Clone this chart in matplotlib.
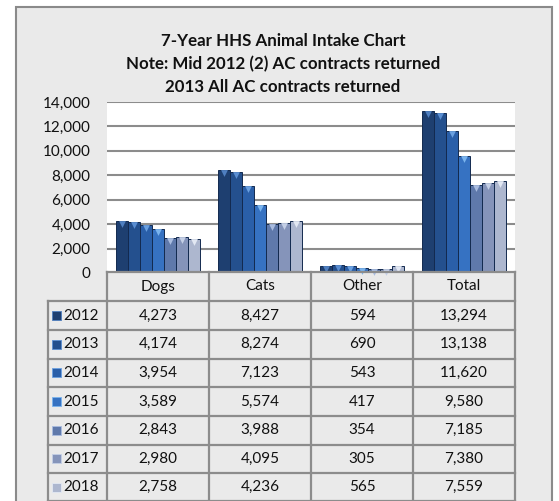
import matplotlib
matplotlib.use('Agg')
import matplotlib.pyplot as plt
import matplotlib.patches as patches
import matplotlib.transforms as mtransforms
from matplotlib.lines import Line2D
import numpy as np

plt.rcParams['font.family'] = ['Lato', 'DejaVu Sans']

categories = ['Dogs', 'Cats', 'Other', 'Total']
years = ['2012', '2013', '2014', '2015', '2016', '2017', '2018']
intake = {
    '2012': [4273, 8427, 594, 13294],
    '2013': [4174, 8274, 690, 13138],
    '2014': [3954, 7123, 543, 11620],
    '2015': [3589, 5574, 417, 9580],
    '2016': [2843, 3988, 354, 7185],
    '2017': [2980, 4095, 305, 7380],
    '2018': [2758, 4236, 565, 7559],
}
colors = ['#1e3f70', '#24508e', '#2a5fa9', '#3672c2', '#5f79ab', '#8594ba', '#adb7cf']
tops = ['#4f7fc0', '#5a8ed2', '#6aa0e0', '#7ab4ee', '#a9bce0', '#c4cfe6', '#e2e8f3']
title = ('7-Year HHS Animal Intake Chart\n'
         'Note: Mid 2012 (2) AC contracts returned\n'
         '2013 All AC contracts returned')

W, H = 559, 501
fig = plt.figure(figsize=(W / 100, H / 100), dpi=100)
fig.patch.set_facecolor('white')


def fx(px):
    return px / W


def fy(py):
    return 1 - py / H


# outer frame
fig.patches.append(patches.Rectangle((fx(16), fy(520)), fx(552) - fx(16), fy(7) - fy(520),
                                     transform=fig.transFigure, facecolor='#eaeaea',
                                     edgecolor='#8a8a8a', lw=1.5, zorder=-5))

fig.text(fx(283), fy(64), title, ha='center', va='center', fontsize=12.2,
         fontweight='bold', linespacing=1.5, color='#111111')

ax = fig.add_axes([fx(107), fy(273), fx(515) - fx(107), fy(102) - fy(273)])
ax.set_facecolor('white')
ax.set_ylim(0, 14000)
ax.set_xlim(-0.5, len(categories) - 0.5)
ax.set_yticks(np.arange(0, 14001, 2000))
ax.set_yticklabels([f'{v:,}' for v in range(0, 14001, 2000)])
ax.tick_params(axis='y', length=0, pad=12, labelsize=11, labelcolor='#111111')
ax.set_xticks([])
ax.grid(axis='y', color='#8c8c8c', lw=1.5)
ax.set_axisbelow(True)
for s in ax.spines.values():
    s.set_visible(False)

x = np.arange(len(categories))
w = 0.118
tri = mtransforms.offset_copy(ax.transData, fig=fig, x=0, y=-3, units='dots')
for i, yr in enumerate(years):
    xs = x + (i - 3) * w
    ax.bar(xs, intake[yr], width=w, color=colors[i], edgecolor='#132a4f', lw=0.7, zorder=2)
    ax.scatter(xs, intake[yr], marker='v', s=24, color=tops[i], zorder=3,
               transform=tri, clip_on=False, linewidths=0)

# data table
col_x = [48, 107, 209, 311, 413, 515]
row_y = [272, 301, 330, 358.5, 387, 416, 444.5, 473, 501]
lc = '#8c8c8c'


def hline(y, x0, x1):
    fig.add_artist(Line2D([fx(x0), fx(x1)], [fy(y), fy(y)], color=lc, lw=1.6,
                          transform=fig.transFigure))


def vline(x0, y0, y1):
    fig.add_artist(Line2D([fx(x0), fx(x0)], [fy(y0), fy(y1)], color=lc, lw=1.6,
                          transform=fig.transFigure))


hline(row_y[0], col_x[1], col_x[-1])
for y in row_y[1:]:
    hline(y, col_x[0], col_x[-1])
for xc in col_x[1:]:
    vline(xc, row_y[0], row_y[-1])
vline(col_x[0], row_y[1], row_y[-1])

for j, cat in enumerate(categories):
    cx = (col_x[j + 1] + col_x[j + 2]) / 2
    fig.text(fx(cx), fy((row_y[0] + row_y[1]) / 2), cat, ha='center', va='center',
             fontsize=11, color='#111111')

for i, yr in enumerate(years):
    cy = (row_y[i + 1] + row_y[i + 2]) / 2
    fig.patches.append(patches.Rectangle((fx(52), fy(cy + 4.5)), fx(9), 9 / H,
                                         transform=fig.transFigure, facecolor=colors[i],
                                         edgecolor=tops[i], lw=0.6))
    fig.text(fx(63), fy(cy), yr, ha='left', va='center', fontsize=11, color='#111111')
    for j in range(len(categories)):
        cx = (col_x[j + 1] + col_x[j + 2]) / 2
        fig.text(fx(cx), fy(cy), f'{intake[yr][j]:,}', ha='center', va='center',
                 fontsize=11, color='#111111')

fig.savefig('out.png', dpi=100)
